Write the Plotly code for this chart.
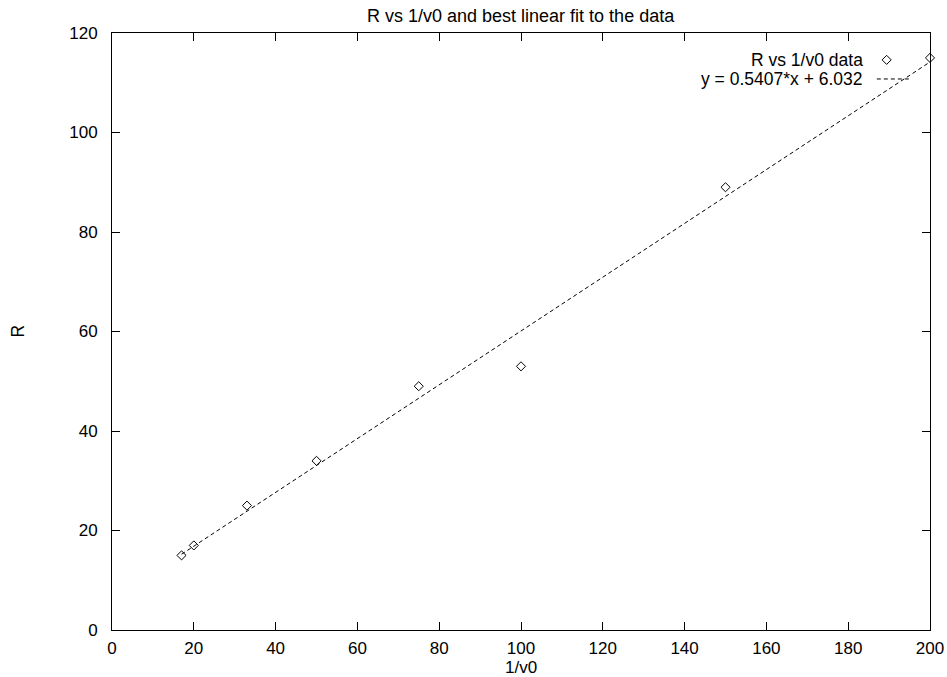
import plotly.graph_objects as go

# Measured data: R against 1/v0
inv_v0 = [17, 20, 33, 50, 75, 100, 150, 200]
R = [15, 17, 25, 34, 49, 53, 89, 115]

# Best linear fit coefficients
slope = 0.5407
intercept = 6.032

title_text = "R vs 1/v0 and best linear fit to the data"
data_label = "R vs 1/v0 data"
fit_label = "y = 0.5407*x + 6.032"

x_ticks = list(range(0, 201, 20))
y_ticks = list(range(0, 121, 20))

fit_x = [min(inv_v0), max(inv_v0)]
fit_y = [slope * v + intercept for v in fit_x]

FONT = "Liberation Sans, Arial, Helvetica, sans-serif"
DASH = "4px,3px"
TEXT_SIZE = 17.5
TICK_SIZE = 17

fig = go.Figure()

fig.add_trace(go.Scatter(
    x=fit_x, y=fit_y, mode="lines",
    line=dict(color="black", width=1, dash=DASH),
    showlegend=False, hoverinfo="skip",
))
fig.add_trace(go.Scatter(
    x=inv_v0, y=R, mode="markers",
    marker=dict(symbol="diamond-open", size=7, color="black", line=dict(width=1, color="black")),
    showlegend=False, cliponaxis=False,
))

# Key samples drawn on a hidden overlay axis spanning the plot area [0, 1]
key_x_marker = 0.947
key_y_data = 0.955
key_y_fit = 0.923
key_line_x = [0.935, 0.976]
fig.add_trace(go.Scatter(
    x=[key_x_marker], y=[key_y_data], mode="markers",
    marker=dict(symbol="diamond-open", size=7, color="black", line=dict(width=1, color="black")),
    xaxis="x2", yaxis="y2", showlegend=False, hoverinfo="skip",
))
fig.add_trace(go.Scatter(
    x=key_line_x, y=[key_y_fit, key_y_fit], mode="lines",
    line=dict(color="black", width=1, dash=DASH),
    xaxis="x2", yaxis="y2", showlegend=False, hoverinfo="skip",
))

axis_common = dict(
    showline=True, linecolor="black", linewidth=1, mirror="allticks",
    ticks="inside", ticklen=8, tickcolor="black", tickwidth=1,
    showgrid=False, zeroline=False, automargin=False,
    tickfont=dict(family=FONT, size=TICK_SIZE, color="black"),
)

fig.update_layout(
    width=947, height=677,
    margin=dict(l=112, r=17, t=33, b=47),
    paper_bgcolor="white", plot_bgcolor="white",
    font=dict(family=FONT, color="black"),
    xaxis=dict(range=[0, 200], tickvals=x_ticks, ticktext=[str(v) for v in x_ticks],
               ticklabelstandoff=3, **axis_common),
    yaxis=dict(range=[0, 120], tickvals=y_ticks, ticktext=[str(v) for v in y_ticks],
               ticklabelstandoff=10, **axis_common),
    xaxis2=dict(range=[0, 1], overlaying="x", visible=False, fixedrange=True, automargin=False),
    yaxis2=dict(range=[0, 1], overlaying="y", visible=False, fixedrange=True, automargin=False),
    showlegend=False,
    annotations=[
        dict(text=title_text, xref="paper", yref="paper", x=0.5, y=1, yshift=17,
             xanchor="center", yanchor="middle", showarrow=False,
             font=dict(family=FONT, size=18)),
        dict(text="1/v0", xref="paper", yref="paper", x=0.5, y=0, yshift=-37.5,
             xanchor="center", yanchor="middle", showarrow=False,
             font=dict(family=FONT, size=17)),
        dict(text="R", xref="paper", yref="paper", x=0, xshift=-95, y=0.5,
             xanchor="center", yanchor="middle", showarrow=False, textangle=-90,
             font=dict(family=FONT, size=TEXT_SIZE)),
        dict(text=data_label, xref="paper", yref="paper", x=0.9205, y=key_y_data,
             xanchor="right", yanchor="middle", showarrow=False,
             font=dict(family=FONT, size=TEXT_SIZE)),
        dict(text=fit_label, xref="paper", yref="paper", x=0.9205, y=key_y_fit,
             xanchor="right", yanchor="middle", showarrow=False,
             font=dict(family=FONT, size=TEXT_SIZE)),
    ],
)

fig.write_html("out.html")
